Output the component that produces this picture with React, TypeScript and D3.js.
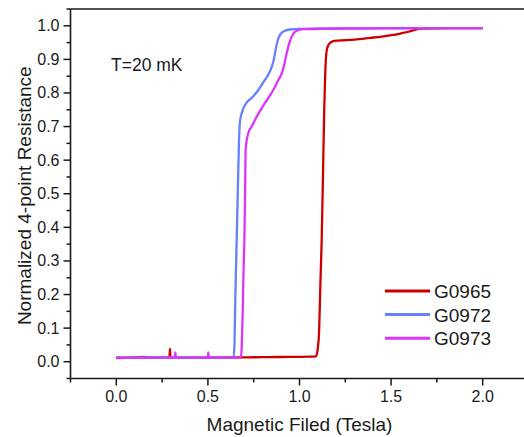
import React from "react";
import * as d3 from "d3";

const seriesNames = ["G0965", "G0972", "G0973"];
const seriesColors = ["#CC0000", "#6680FF", "#DD33FF"];

// [field (Tesla), normalized resistance]
const g0965: [number, number][] = [
  [0, 0.012], [0.1, 0.013], [0.15, 0.014], [0.2, 0.012], [0.29, 0.012], [0.293, 0.038], [0.296, 0.012],
  [0.5, 0.012], [0.7, 0.013], [0.9, 0.014], [1.05, 0.015], [1.09, 0.016], [1.1, 0.04],
  [1.107, 0.09], [1.115, 0.25], [1.121, 0.36], [1.128, 0.55], [1.135, 0.75], [1.14, 0.85],
  [1.145, 0.91], [1.152, 0.935], [1.165, 0.948], [1.19, 0.955], [1.25, 0.957], [1.3, 0.959],
  [1.385, 0.964], [1.45, 0.968], [1.5, 0.972], [1.55, 0.977], [1.6, 0.983], [1.63, 0.988],
  [1.66, 0.992], [1.8, 0.993], [2.0, 0.993],
];
const g0972: [number, number][] = [
  [0, 0.012], [0.2, 0.013], [0.4, 0.012], [0.6, 0.012], [0.64, 0.013], [0.645, 0.05],
  [0.65, 0.2], [0.657, 0.36], [0.665, 0.55], [0.67, 0.66], [0.675, 0.715], [0.685, 0.74],
  [0.7, 0.762], [0.748, 0.79], [0.775, 0.809], [0.81, 0.838], [0.835, 0.86], [0.85, 0.88],
  [0.86, 0.9], [0.872, 0.935], [0.884, 0.962], [0.9, 0.978], [0.92, 0.985], [0.948, 0.989],
  [1.0, 0.991], [1.5, 0.993], [2.0, 0.993],
];
const g0973: [number, number][] = [
  [0, 0.011], [0.2, 0.012], [0.32, 0.012], [0.322, 0.028], [0.325, 0.012], [0.5, 0.012],
  [0.502, 0.028], [0.505, 0.012], [0.67, 0.012], [0.68, 0.013], [0.685, 0.05], [0.69, 0.15],
  [0.695, 0.28], [0.699, 0.36], [0.703, 0.5], [0.706, 0.63], [0.712, 0.66], [0.72, 0.68],
  [0.739, 0.7], [0.766, 0.729], [0.81, 0.769], [0.857, 0.809], [0.884, 0.838], [0.903, 0.858],
  [0.915, 0.88], [0.93, 0.918], [0.945, 0.95], [0.957, 0.967], [0.97, 0.979], [0.985, 0.985],
  [1.02, 0.99], [1.2, 0.992], [2.0, 0.993],
];
const seriesData = [g0965, g0972, g0973];

const xMajorTicks = [0, 0.5, 1.0, 1.5, 2.0];
const xMinorTicks = [-0.25, 0.25, 0.75, 1.25, 1.75, 2.25];
const yMajorTicks = [0, 0.1, 0.2, 0.3, 0.4, 0.5, 0.6, 0.7, 0.8, 0.9, 1.0];
const yMinorTicks = [-0.05, 0.05, 0.15, 0.25, 0.35, 0.45, 0.55, 0.65, 0.75, 0.85, 0.95, 1.05];

const xTitle = "Magnetic Filed (Tesla)";
const yTitle = "Normalized 4-point Resistance";
const annotation = "T=20 mK";

export default function App() {
  const W = 524, H = 437;
  const x = d3.scaleLinear().domain([-0.25, 2.25]).range([70.5, 528.5]);
  const y = d3.scaleLinear().domain([-0.05, 1.05]).range([378.5, 9]);
  const line = d3.line<[number, number]>().x(d => x(d[0])).y(d => y(d[1])).curve(d3.curveMonotoneX);
  const font = "'Liberation Sans', Arial, sans-serif";
  const ink = "#1a1a1a";
  const x0 = x(-0.25), yB = y(-0.05), yT = y(1.05);

  return (
    <svg width={W} height={H} style={{ position: "absolute", left: 0, top: 0, background: "#fff" }} fontFamily={font}>
      <rect x={0} y={0} width={W} height={H} fill="#fff" />
      <defs>
        <clipPath id="clipPlot">
          <rect x={x0} y={yT} width={W - x0} height={yB - yT} />
        </clipPath>
      </defs>
      <g clipPath="url(#clipPlot)">
        {seriesData.map((d, i) => (
          <path key={i} d={line(d) || ""} fill="none" stroke={seriesColors[i]} strokeWidth={2.3} strokeLinejoin="round" />
        ))}
      </g>
      {/* axes */}
      <line x1={x0} x2={W} y1={yB} y2={yB} stroke={ink} strokeWidth={1.6} />
      <line x1={x0} x2={W} y1={yT} y2={yT} stroke={ink} strokeWidth={1.6} />
      <line x1={x0} x2={x0} y1={yT} y2={yB} stroke={ink} strokeWidth={1.6} />
      {xMajorTicks.map(t => (
        <g key={"xm" + t}>
          <line x1={x(t)} x2={x(t)} y1={yB} y2={yB + 7} stroke={ink} strokeWidth={1.5} />
          <text x={x(t)} y={yB + 23} textAnchor="middle" fontSize={16} fill={ink}>{t.toFixed(1)}</text>
        </g>
      ))}
      {xMinorTicks.map(t => (
        <line key={"xn" + t} x1={x(t)} x2={x(t)} y1={yB} y2={yB + 4} stroke={ink} strokeWidth={1.5} />
      ))}
      {yMajorTicks.map(t => (
        <g key={"ym" + t}>
          <line x1={x0 - 7} x2={x0} y1={y(t)} y2={y(t)} stroke={ink} strokeWidth={1.5} />
          <text x={x0 - 11} y={y(t) + 5.5} textAnchor="end" fontSize={16} fill={ink}>{t.toFixed(1)}</text>
        </g>
      ))}
      {yMinorTicks.map(t => (
        <line key={"yn" + t} x1={x0 - 4} x2={x0} y1={y(t)} y2={y(t)} stroke={ink} strokeWidth={1.5} />
      ))}
      <text x={299.5} y={431} textAnchor="middle" fontSize={19} fill={ink}>{xTitle}</text>
      <text transform={`translate(31,${(yT + yB) / 2 + 2}) rotate(-90)`} textAnchor="middle" fontSize={19} fill={ink}>{yTitle}</text>
      <text x={111} y={71} fontSize={17.5} fill={ink}>{annotation}</text>
      {seriesNames.map((n, i) => {
        const ly = 291 + i * 23.6;
        return (
          <g key={n}>
            <line x1={385} x2={430} y1={ly} y2={ly} stroke={seriesColors[i]} strokeWidth={3} />
            <text x={434} y={ly + 7} fontSize={19} fill={ink}>{n}</text>
          </g>
        );
      })}
    </svg>
  );
}
